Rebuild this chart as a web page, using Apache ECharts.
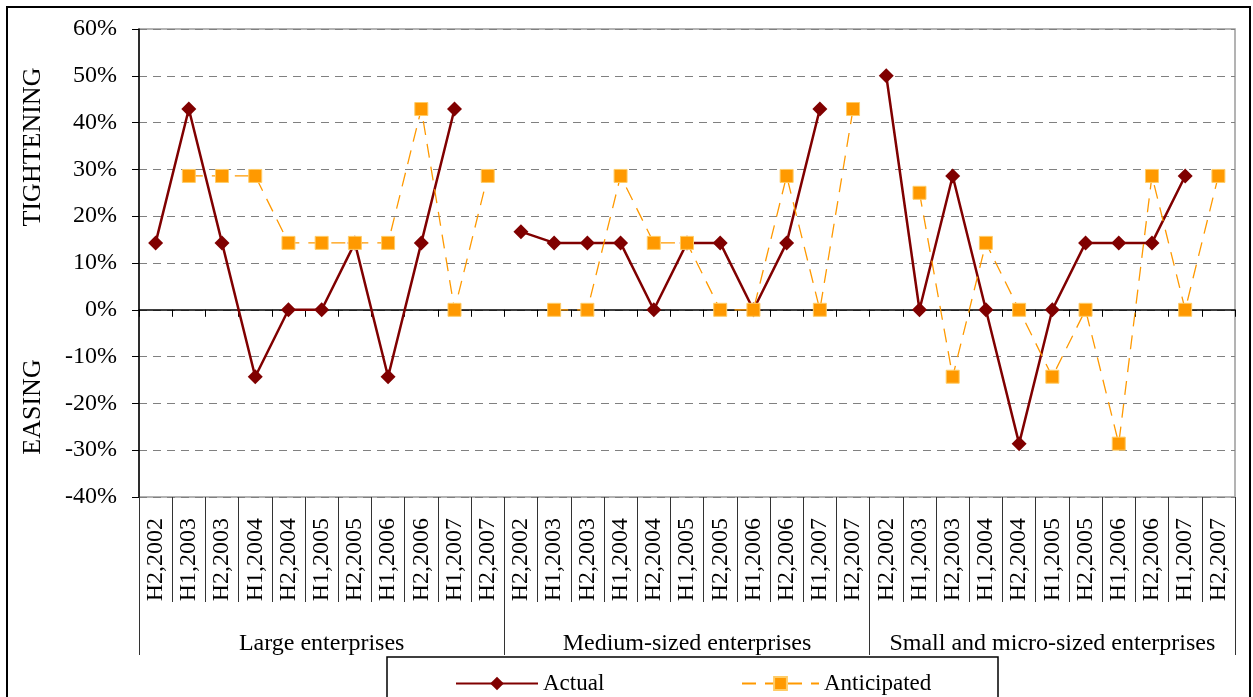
<!DOCTYPE html>
<html>
<head>
<meta charset="utf-8">
<script src="https://cdn.jsdelivr.net/npm/echarts@6/dist/echarts.min.js"></script>
<style>
  html, body { margin: 0; padding: 0; background: #fff; }
  #chart { width: 1253px; height: 697px; }
</style>
</head>
<body>
<div id="chart"></div>
<script>
// Half-year periods, repeated for each enterprise size group
const periods = ['H2,2002', 'H1,2003', 'H2,2003', 'H1,2004', 'H2,2004', 'H1,2005',
                 'H2,2005', 'H1,2006', 'H2,2006', 'H1,2007', 'H2,2007'];
const groups = ['Large enterprises', 'Medium-sized enterprises', 'Small and micro-sized enterprises'];

// Net percentage (tightening > 0, easing < 0), one value per period
const actualLarge  = [14.3, 42.9, 14.3, -14.3, 0, 0, 14.3, -14.3, 14.3, 42.9, null];
const actualMedium = [16.7, 14.3, 14.3, 14.3, 0, 14.3, 14.3, 0, 14.3, 42.9, null];
const actualSmall  = [50, 0, 28.6, 0, -28.6, 0, 14.3, 14.3, 14.3, 28.6, null];

const anticipatedLarge  = [null, 28.6, 28.6, 28.6, 14.3, 14.3, 14.3, 14.3, 42.9, 0, 28.6];
const anticipatedMedium = [null, 0, 0, 28.6, 14.3, 14.3, 0, 0, 28.6, 0, 42.9];
const anticipatedSmall  = [null, 25, -14.3, 14.3, 0, -14.3, 0, -28.6, 28.6, 0, 28.6];

const yTicks = { min: -40, max: 60, step: 10 };

const categories = [].concat(periods, periods, periods);
const actual = [].concat(actualLarge, actualMedium, actualSmall);
const anticipated = [].concat(anticipatedLarge, anticipatedMedium, anticipatedSmall);

const FONT = '"Liberation Serif", "Times New Roman", serif';
const chart = echarts.init(document.getElementById('chart'), null, { renderer: 'canvas' });

chart.setOption({
  animation: false,
  backgroundColor: '#fff',
  grid: {
    left: 139, right: 18, top: 29, bottom: 200,
    show: true, borderColor: '#9a9a9a', borderWidth: 1.5, backgroundColor: 'transparent'
  },
  xAxis: [
    {
      // period labels with separators between categories
      type: 'category', data: categories, position: 'bottom', boundaryGap: true,
      axisLine: { show: false, onZero: false },
      axisTick: { show: true, interval: 0, length: 105, lineStyle: { color: '#333', width: 1 } },
      axisLabel: { interval: 0, rotate: 90, margin: 21, fontSize: 24, fontFamily: FONT, color: '#000' },
      splitLine: { show: false }
    },
    {
      // group labels with longer separators
      type: 'category', data: groups, position: 'bottom', boundaryGap: true,
      axisLine: { show: false, onZero: false },
      axisTick: { show: true, interval: 0, length: 158, lineStyle: { color: '#333', width: 1 } },
      axisLabel: { interval: 0, margin: 135, fontSize: 24, fontFamily: FONT, color: '#000' },
      splitLine: { show: false }
    },
    {
      // baseline at 0% with small downward ticks
      type: 'category', data: categories, position: 'bottom', boundaryGap: true,
      axisLine: { show: true, onZero: true, lineStyle: { color: '#000', width: 1.5 } },
      axisTick: { show: true, interval: 0, length: 7, lineStyle: { color: '#000', width: 1 } },
      axisLabel: { show: false },
      splitLine: { show: false }
    }
  ],
  yAxis: {
    type: 'value', min: yTicks.min, max: yTicks.max, interval: yTicks.step,
    axisLine: { show: true, onZero: false, lineStyle: { color: '#000', width: 1.5 } },
    axisTick: { show: true, length: 7, lineStyle: { color: '#000', width: 1 } },
    axisLabel: { formatter: '{value}%', margin: 22, fontSize: 24, fontFamily: FONT, color: '#000' },
    splitLine: { show: true, lineStyle: { color: '#808080', width: 1, type: [8, 6] } }
  },
  legend: [
    {
      data: ['Actual'], left: 455, top: 672, padding: 0,
      itemWidth: 82, itemHeight: 17,
      textStyle: { fontSize: 23, fontFamily: FONT, color: '#000' }
    },
    {
      data: ['Anticipated'], left: 741, top: 672, padding: 0,
      itemWidth: 77, itemHeight: 16,
      textStyle: { fontSize: 23, fontFamily: FONT, color: '#000' }
    }
  ],
  graphic: [
    {
      type: 'rect', z: -10, silent: true,
      shape: { x: 7, y: 7, width: 1243, height: 720 },
      style: { fill: 'none', stroke: '#000', lineWidth: 2 }
    },
    {
      type: 'rect', z: -10, silent: true,
      shape: { x: 387, y: 657, width: 611, height: 60 },
      style: { fill: 'none', stroke: '#000', lineWidth: 1.5 }
    },
    {
      type: 'text', x: 33, y: 147, rotation: Math.PI / 2, silent: true,
      style: { text: 'TIGHTENING', font: '26px ' + FONT, fill: '#000', textAlign: 'center', textVerticalAlign: 'middle' }
    },
    {
      type: 'text', x: 33, y: 407, rotation: Math.PI / 2, silent: true,
      style: { text: 'EASING', font: '26px ' + FONT, fill: '#000', textAlign: 'center', textVerticalAlign: 'middle' }
    }
  ],
  series: [
    {
      name: 'Actual', type: 'line', xAxisIndex: 0, data: actual,
      symbol: 'diamond', symbolSize: 15, connectNulls: false,
      lineStyle: { color: '#800000', width: 2.5 },
      itemStyle: { color: '#800000' },
      z: 3
    },
    {
      name: 'Anticipated', type: 'line', xAxisIndex: 0, data: anticipated,
      symbol: 'rect', symbolSize: 13, connectNulls: false,
      lineStyle: { color: '#FF9900', width: 1.3, type: [14, 9] },
      itemStyle: { color: '#FF9900', borderColor: '#FFCC66', borderWidth: 1 },
      z: 4
    }
  ]
});
</script>
</body>
</html>
